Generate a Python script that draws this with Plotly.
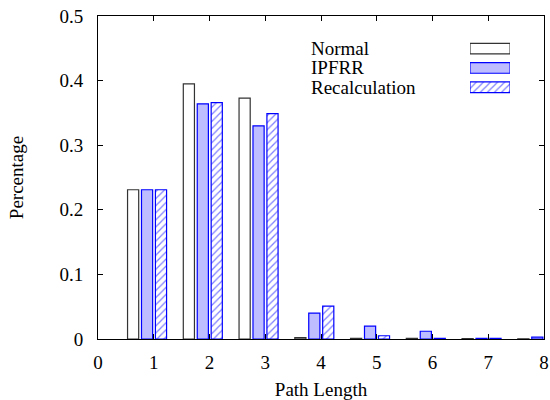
import plotly.graph_objects as go

path_length = [1, 2, 3, 4, 5, 6, 7, 8]
series_names = ["Normal", "IPFRR", "Recalculation"]
normal = [0.231, 0.395, 0.373, 0.002, 0.001, 0.001, 0.0006, 0.0003]
ipfrr = [0.231, 0.364, 0.330, 0.040, 0.020, 0.012, 0.001, 0.003]
recalc = [0.231, 0.366, 0.349, 0.051, 0.005, 0.001, 0.001, 0.001]
x_ticks = [0, 1, 2, 3, 4, 5, 6, 7, 8]
y_ticks = [0, 0.1, 0.2, 0.3, 0.4, 0.5]
y_tick_text = ["0", "0.1", "0.2", "0.3", "0.4", "0.5"]

FONT = "Liberation Serif"
BLUE = "#0000ff"
LIGHT = "#bdbdff"

styles = [
    dict(fill="white", line="#333333", pattern=None, offset=-0.47),
    dict(fill=LIGHT, line=BLUE, pattern=None, offset=-0.22),
    dict(fill="white", line=BLUE, pattern=dict(shape="/", fgcolor=BLUE, bgcolor="white", size=5, solidity=0.25), offset=0.03),
]
values = [normal, ipfrr, recalc]

fig = go.Figure()
for name, vals, st in zip(series_names, values, styles):
    marker = dict(color=st["fill"], line=dict(color=st["line"], width=1.2))
    if st["pattern"]:
        marker["pattern"] = st["pattern"]
    fig.add_trace(go.Bar(x=path_length, y=vals, name=name, width=0.2, offset=st["offset"],
                         marker=marker, showlegend=False))
    # legend sample
    fig.add_trace(go.Bar(x=[1], y=[name], orientation="h", width=0.55, base=0,
                         marker=marker, xaxis="x2", yaxis="y2", showlegend=False,
                         hoverinfo="skip"))

axis_common = dict(showline=True, linecolor="black", linewidth=1, mirror="ticks",
                   ticks="inside", ticklen=5, tickcolor="black", showgrid=False,
                   zeroline=False, automargin=False,
                   tickfont=dict(family=FONT, size=19, color="black"))

fig.update_layout(
    width=550, height=400, autosize=False,
    margin=dict(l=98, r=6, t=16, b=61),
    paper_bgcolor="white", plot_bgcolor="white",
    barmode="overlay",
    font=dict(family=FONT, size=19, color="black"),
    xaxis=dict(range=[0, 8], tickvals=x_ticks, ticklabelstandoff=6,
               title=dict(text="Path Length", font=dict(family=FONT, size=19), standoff=12),
               **axis_common),
    yaxis=dict(range=[0, 0.5], tickvals=y_ticks, ticktext=y_tick_text, ticklabelstandoff=10,
               title=dict(text="Percentage", font=dict(family=FONT, size=19), standoff=30),
               **axis_common),
    xaxis2=dict(domain=[0.834, 0.924], range=[0, 1], visible=False, anchor="y2",
                fixedrange=True),
    yaxis2=dict(domain=[0.7495, 0.9288], visible=False, anchor="x2",
                categoryorder="array", categoryarray=series_names, range=[2.5, -0.5],
                fixedrange=True),
    showlegend=False,
)

for name in series_names:
    fig.add_annotation(x=0.473, xref="paper", y=name, yref="y2", text=name,
                       xanchor="left", yanchor="middle", showarrow=False,
                       font=dict(family=FONT, size=19, color="black"))

fig.write_html("out.html")
